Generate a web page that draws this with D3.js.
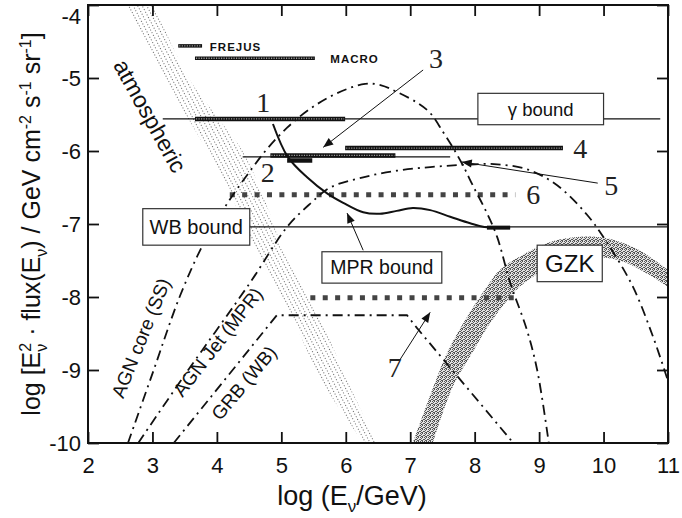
<!DOCTYPE html>
<html>
<head>
<meta charset="utf-8">
<script src="https://cdn.jsdelivr.net/npm/d3@7"></script>
<style>
  html, body { margin: 0; padding: 0; background: #fff; }
  svg { display: block; }
  text { font-family: "Liberation Sans", Arial, sans-serif; fill: #111; }
</style>
</head>
<body>
<svg id="chart" width="682" height="518"></svg>
<script>
// tick values
const xTicks = [2, 3, 4, 5, 6, 7, 8, 9, 10, 11];
const yTicks = [-4, -5, -6, -7, -8, -9, -10];

// atmospheric band : left / right edge at each y level
const atmY     = [-3.95, -5.0, -5.55, -6.0, -6.67, -7.5, -8.25, -9.14, -10.0];
const atmLeft  = [2.56, 3.18, 3.55, 3.85, 4.25, 4.68, 5.15, 5.62, 6.28];
const atmRight = [3.00, 3.56, 4.02, 4.40, 4.74, 5.10, 5.58, 6.02, 6.48];

// GZK band : upper and lower edge
const gzkUpper = [[7.04, -10.0], [7.36, -9.23], [7.57, -8.77], [7.85, -8.32], [8.19, -7.86],
  [8.39, -7.63], [8.75, -7.42], [9.28, -7.22], [9.95, -7.18], [10.49, -7.33], [11.0, -7.63]];
const gzkLower = [[7.35, -10.0], [7.66, -9.23], [7.96, -8.77], [8.27, -8.32], [8.70, -7.86],
  [9.09, -7.63], [9.63, -7.47], [10.21, -7.49], [10.64, -7.66], [11.0, -7.86]];

// model fluxes (dash-dot)
const agnCoreSS = [[2.62, -10], [3.0, -9.05], [3.43, -7.98], [3.82, -7.22], [4.16, -6.72],
  [4.56, -6.22], [4.80, -5.95], [5.09, -5.68], [5.45, -5.42], [5.86, -5.21], [6.30, -5.08],
  [6.55, -5.10], [6.79, -5.19], [7.11, -5.34], [7.31, -5.48], [7.51, -5.74], [7.66, -5.95],
  [7.82, -6.20], [7.97, -6.47], [8.19, -6.85], [8.35, -7.18], [8.55, -7.80], [8.81, -8.45],
  [8.97, -9.0], [9.15, -10]];
const agnJetMPR = [[2.78, -10], [3.5, -9.07], [4.51, -7.81], [5.09, -7.04], [5.45, -6.72],
  [5.76, -6.50], [6.27, -6.36], [6.79, -6.27], [7.31, -6.22], [7.82, -6.19], [8.3, -6.18],
  [8.81, -6.25], [9.28, -6.47], [9.75, -6.88], [10.05, -7.25], [10.45, -7.85], [10.77, -8.55],
  [11.0, -9.15]];
const grbWB = [[3.33, -10], [4.93, -8.25], [6.95, -8.25], [7.1, -8.42], [8.6, -10]];

// MPR bound (solid)
const mprBound = [[4.87, -5.63], [5.10, -6.08], [5.40, -6.36], [5.71, -6.58], [5.96, -6.71],
  [6.27, -6.84], [6.53, -6.86], [6.79, -6.82], [7.04, -6.78], [7.31, -6.81], [7.62, -6.90],
  [7.93, -6.99], [8.15, -7.04], [8.55, -7.05]];

// experimental limits (thick hatched)
const hatchedLimits = [
  {name: "FREJUS", x0: 3.40, x1: 3.77, y: -4.56},
  {name: "MACRO", x0: 3.66, x1: 5.52, y: -4.73},
  {name: "1", x0: 3.66, x1: 5.99, y: -5.56},
  {name: "2", x0: 4.83, x1: 6.77, y: -6.06},
  {name: "2b", x0: 5.09, x1: 5.48, y: -6.13},
  {name: "4", x0: 5.99, x1: 9.37, y: -5.96}
];
// expected sensitivities (square dots)
const dottedLimits = [
  {name: "6", x0: 4.20, x1: 8.63, y: -6.60},
  {name: "7", x0: 5.45, x1: 8.66, y: -8.01}
];
// thin horizontal lines
const thinLines = [
  {name: "gamma bound", x0: 3.16, x1: 10.88, y: -5.56},
  {name: "WB bound", x0: 2.85, x1: 11.0, y: -7.04},
  {name: "2", x0: 4.40, x1: 7.62, y: -6.08}
];
const mprEnd = {x0: 8.19, x1: 8.55, y: -7.05};

// framed labels
const boxes = [
  {label: "\u03b3 bound", x0: 8.05, x1: 10.0, y0: -5.21, y1: -5.64, size: 18.5},
  {label: "WB bound", x0: 2.85, x1: 4.51, y0: -6.79, y1: -7.29, size: 20},
  {label: "MPR bound", x0: 5.63, x1: 7.49, y0: -7.38, y1: -7.81, size: 19.5},
  {label: "GZK", x0: 8.97, x1: 9.98, y0: -7.29, y1: -7.79, size: 24}
];
// numbered labels
const numberLabels = [
  ["1", 4.72, -5.34], ["2", 4.79, -6.29], ["3", 7.40, -4.73], ["4", 9.64, -5.96],
  ["5", 10.12, -6.47], ["6", 8.91, -6.60], ["7", 6.76, -8.97]
];
// arrows : from -> to
const arrows = [
  [[7.20, -4.89], [5.65, -5.95]],
  [[9.91, -6.44], [7.80, -6.15]],
  [[6.27, -7.36], [6.02, -6.85]],
  [[6.84, -8.86], [7.31, -8.21]]
];

const margin = {top: 5, right: 14, bottom: 75, left: 88};
const width = 682 - margin.left - margin.right;
const height = 518 - margin.top - margin.bottom;

const svg = d3.select("#chart");
const g = svg.append("g").attr("transform", `translate(${margin.left},${margin.top})`);

const x = d3.scaleLinear().domain([2, 11]).range([0, width]);
const y = d3.scaleLinear().domain([-10, -4]).range([height, 0]);

/* defs : clip, patterns, arrow head */
const defs = svg.append("defs");
defs.append("clipPath").attr("id", "plotClip")
  .append("rect").attr("width", width).attr("height", height);

// atmospheric : light dotted streaks along the band
const atmPat = defs.append("pattern").attr("id", "atmDots")
  .attr("patternUnits", "userSpaceOnUse").attr("width", 3).attr("height", 4)
  .attr("patternTransform", "rotate(62)");
atmPat.append("rect").attr("x", 0).attr("y", 0).attr("width", 1).attr("height", 1).attr("fill", "#666");

// GZK : dense stipple
const gzkPat = defs.append("pattern").attr("id", "gzkDots")
  .attr("patternUnits", "userSpaceOnUse").attr("width", 4).attr("height", 4);
gzkPat.append("rect").attr("width", 4).attr("height", 4).attr("fill", "#e2e2e2");
[[0, 0], [2, 0], [1, 1], [3, 2], [0, 2], [2, 3], [1, 3]].forEach(p => {
  gzkPat.append("rect").attr("x", p[0]).attr("y", p[1]).attr("width", 1).attr("height", 1).attr("fill", "#555");
});

defs.append("marker").attr("id", "arrowHead")
  .attr("viewBox", "0 0 10 10").attr("refX", 10).attr("refY", 5)
  .attr("markerUnits", "userSpaceOnUse").attr("markerWidth", 13).attr("markerHeight", 10)
  .attr("orient", "auto")
  .append("path").attr("d", "M0,1 L10,5 L0,9 Z").attr("fill", "#111");

const plot = g.append("g").attr("clip-path", "url(#plotClip)");

/* atmospheric band */
const atmData = atmY.map((v, i) => ({y: v, l: atmLeft[i], r: atmRight[i]}));
plot.append("path")
  .datum(atmData)
  .attr("d", d3.area().y(d => y(d.y)).x0(d => x(d.l)).x1(d => x(d.r)).curve(d3.curveCatmullRom))
  .attr("fill", "url(#atmDots)");

/* GZK band */
const edge = d3.line().x(d => x(d[0])).y(d => y(d[1])).curve(d3.curveCatmullRom);
plot.append("path")
  .attr("d", edge(gzkUpper) + "L" + edge(gzkLower.slice().reverse()).slice(1) + "Z")
  .attr("fill", "url(#gzkDots)");

/* thin lines */
plot.selectAll(".thin").data(thinLines).join("line")
  .attr("class", "thin")
  .attr("x1", d => x(d.x0)).attr("x2", d => x(d.x1))
  .attr("y1", d => y(d.y)).attr("y2", d => y(d.y))
  .attr("stroke", "#111").attr("stroke-width", 1.4);

/* hatched limits */
hatchedLimits.forEach(d => {
  const thick = d.name === "FREJUS" || d.name === "MACRO" ? 3.5 : 4.5;
  plot.append("line")
    .attr("x1", x(d.x0)).attr("x2", x(d.x1)).attr("y1", y(d.y)).attr("y2", y(d.y))
    .attr("stroke", "#111").attr("stroke-width", thick);
  if (d.name !== "2b") {
    plot.append("line")
      .attr("x1", x(d.x0) + 1).attr("x2", x(d.x1) - 1).attr("y1", y(d.y)).attr("y2", y(d.y))
      .attr("stroke", "#999").attr("stroke-width", 1.4).attr("stroke-dasharray", "1.2,1.3");
  }
});

/* dotted limits */
plot.selectAll(".dotted").data(dottedLimits).join("line")
  .attr("class", "dotted")
  .attr("x1", d => x(d.x0)).attr("x2", d => x(d.x1))
  .attr("y1", d => y(d.y)).attr("y2", d => y(d.y))
  .attr("stroke", "#444").attr("stroke-width", 5).attr("stroke-dasharray", "5,7.4");

/* model curves */
const curve = d3.line().x(d => x(d[0])).y(d => y(d[1])).curve(d3.curveCatmullRom);
[agnCoreSS, agnJetMPR].forEach(data => {
  plot.append("path").attr("d", curve(data))
    .attr("fill", "none").attr("stroke", "#111").attr("stroke-width", 1.8)
    .attr("stroke-dasharray", "10,5,2,5");
});
plot.append("path").attr("d", d3.line().x(d => x(d[0])).y(d => y(d[1]))(grbWB))
  .attr("fill", "none").attr("stroke", "#111").attr("stroke-width", 1.8)
  .attr("stroke-dasharray", "10,5,2,5");

/* MPR bound */
plot.append("path").attr("d", curve(mprBound))
  .attr("fill", "none").attr("stroke", "#111").attr("stroke-width", 2);
plot.append("line")
  .attr("x1", x(mprEnd.x0)).attr("x2", x(mprEnd.x1)).attr("y1", y(mprEnd.y)).attr("y2", y(mprEnd.y))
  .attr("stroke", "#111").attr("stroke-width", 4);

/* boxes */
const box = g.selectAll(".box").data(boxes).join("g").attr("class", "box");
box.append("rect")
  .attr("x", d => x(d.x0)).attr("y", d => y(d.y0))
  .attr("width", d => x(d.x1) - x(d.x0)).attr("height", d => y(d.y1) - y(d.y0))
  .attr("fill", "#fff").attr("stroke", "#333").attr("stroke-width", 1.2);
box.append("text")
  .attr("x", d => (x(d.x0) + x(d.x1)) / 2).attr("y", d => (y(d.y0) + y(d.y1)) / 2)
  .attr("text-anchor", "middle").attr("dominant-baseline", "central")
  .style("font-size", d => d.size + "px")
  .text(d => d.label);

/* arrows */
g.selectAll(".arrow").data(arrows).join("line")
  .attr("class", "arrow")
  .attr("x1", d => x(d[0][0])).attr("y1", d => y(d[0][1]))
  .attr("x2", d => x(d[1][0])).attr("y2", d => y(d[1][1]))
  .attr("stroke", "#111").attr("stroke-width", 1)
  .attr("marker-end", "url(#arrowHead)");

/* numbers */
g.selectAll(".num").data(numberLabels).join("text")
  .attr("class", "num")
  .attr("x", d => x(d[1])).attr("y", d => y(d[2]))
  .attr("text-anchor", "middle").attr("dominant-baseline", "central")
  .style("font-family", "'Liberation Serif', 'DejaVu Serif', serif")
  .style("font-size", "28px").style("fill", "#222")
  .text(d => d[0]);

/* FREJUS / MACRO */
[["FREJUS", 3.89, -4.57], ["MACRO", 5.76, -4.74]].forEach(d => {
  g.append("text").attr("x", x(d[1])).attr("y", y(d[2]))
    .attr("dominant-baseline", "central")
    .style("font-size", "11.5px").style("font-weight", "bold").style("letter-spacing", "1px")
    .text(d[0]);
});

/* rotated labels */
[["atmospheric", 150, 116, 61, 23], ["AGN core (SS)", 141, 338, -68, 19],
 ["AGN Jet (MPR)", 218, 342, -52, 19], ["GRB (WB)", 244, 383, -50, 19]].forEach(d => {
  svg.append("text")
    .attr("transform", `translate(${d[1]},${d[2]}) rotate(${d[3]})`)
    .attr("text-anchor", "middle").attr("dominant-baseline", "central")
    .style("font-size", d[4] + "px")
    .text(d[0]);
});

/* axes */
g.append("g").attr("transform", `translate(0,${height})`)
  .call(d3.axisBottom(x).tickValues(xTicks).tickFormat(d => String(d))
    .tickSizeInner(-11).tickSizeOuter(0).tickPadding(14))
  .call(a => a.select(".domain").remove())
  .call(a => a.selectAll("text").style("font-size", "22px").attr("fill", "#111"));
g.append("g")
  .call(d3.axisLeft(y).tickValues(yTicks).tickFormat(d => String(d))
    .tickSizeInner(-11).tickSizeOuter(0).tickPadding(7))
  .call(a => a.select(".domain").remove())
  .call(a => a.selectAll("text").style("font-size", "22px").attr("fill", "#111"))
  .call(a => a.selectAll(".tick").filter(d => d === -4).select("text").attr("dy", "0.85em"));
g.append("g")
  .call(d3.axisTop(x).tickValues(xTicks).tickFormat("").tickSizeInner(-11).tickSizeOuter(0))
  .call(a => a.select(".domain").remove());
g.append("g").attr("transform", `translate(${width},0)`)
  .call(d3.axisRight(y).tickValues(yTicks).tickFormat("").tickSizeInner(-11).tickSizeOuter(0))
  .call(a => a.select(".domain").remove());
g.selectAll(".tick line").attr("stroke", "#111").attr("stroke-width", 1.8);

// frame
g.append("rect").attr("width", width).attr("height", height)
  .attr("fill", "none").attr("stroke", "#111").attr("stroke-width", 2);

/* axis titles */
const xt = svg.append("text")
  .attr("x", 352).attr("y", 505).attr("text-anchor", "middle")
  .style("font-size", "27px");
xt.append("tspan").text("log (E");
xt.append("tspan").attr("dy", 7).style("font-size", "17px").text("\u03bd");
xt.append("tspan").attr("dy", -7).text("/GeV)");

const yt = svg.append("text")
  .attr("transform", "translate(40,224) rotate(-90)").attr("text-anchor", "middle")
  .style("font-size", "25px");
yt.append("tspan").text("log [E");
yt.append("tspan").attr("dy", 7).style("font-size", "16px").text("\u03bd");
yt.append("tspan").attr("dx", -8).attr("dy", -16).style("font-size", "16px").text("2");
yt.append("tspan").attr("dy", 9).text(" \u00b7 flux(E");
yt.append("tspan").attr("dy", 7).style("font-size", "16px").text("\u03bd");
yt.append("tspan").attr("dy", -7).text(") / GeV cm");
yt.append("tspan").attr("dy", -9).style("font-size", "16px").text("-2");
yt.append("tspan").attr("dy", 9).text(" s");
yt.append("tspan").attr("dy", -9).style("font-size", "16px").text("-1");
yt.append("tspan").attr("dy", 9).text(" sr");
yt.append("tspan").attr("dy", -9).style("font-size", "16px").text("-1");
yt.append("tspan").attr("dy", 9).text("]");
</script>
</body>
</html>
